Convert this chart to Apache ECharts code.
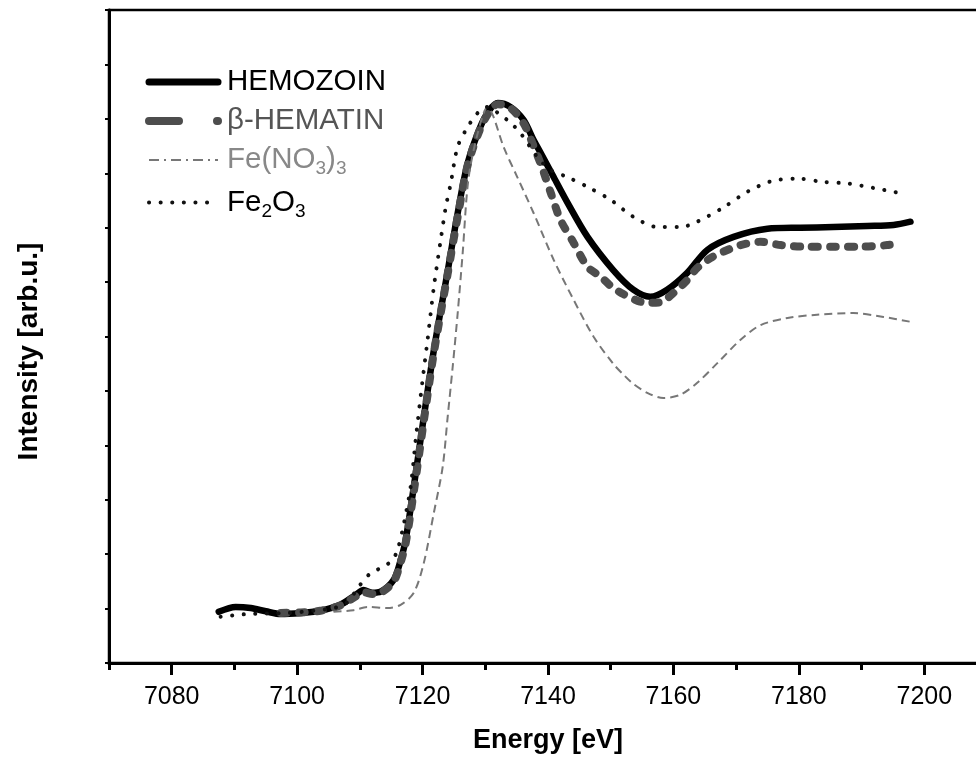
<!DOCTYPE html>
<html>
<head>
<meta charset="utf-8">
<script src="https://cdn.jsdelivr.net/npm/echarts@6/dist/echarts.min.js"></script>
<style>
html,body{margin:0;padding:0;background:#fff;}
#chart{width:976px;height:760px;}
</style>
</head>
<body>
<div id="chart"></div>
<script>
// ---- data (energy in eV, intensity in arbitrary units) ----
const hemozoinE = [7087.5, 7090.2, 7092.6, 7095.0, 7097.4, 7100.6, 7103.7, 7106.9, 7109.3, 7110.6, 7112.0, 7113.3, 7115.4, 7116.5, 7117.3, 7118.6, 7120.2, 7121.8, 7124.0, 7125.6, 7127.2, 7129.2, 7130.6, 7132.0, 7134.0, 7136.1, 7137.7, 7138.8, 7140.9, 7143.1, 7146.3, 7150.4, 7153.6, 7156.3, 7159.0, 7162.2, 7165.4, 7169.6, 7175.0, 7180.2, 7185.5, 7190.9, 7195.1, 7197.8];
const hemozoinI = [0.94, 1.03, 1.01, 0.95, 0.90, 0.92, 0.96, 1.07, 1.25, 1.34, 1.29, 1.31, 1.53, 1.89, 2.26, 3.24, 4.52, 5.75, 7.20, 8.27, 9.19, 9.85, 10.15, 10.29, 10.22, 9.98, 9.61, 9.38, 8.93, 8.46, 7.83, 7.22, 6.86, 6.73, 6.86, 7.17, 7.59, 7.83, 7.98, 8.00, 8.01, 8.03, 8.05, 8.11];

const hematinE = [7097.4, 7100.6, 7103.7, 7106.9, 7109.3, 7110.6, 7112.0, 7113.3, 7115.4, 7116.5, 7117.3, 7118.6, 7120.2, 7121.8, 7124.0, 7125.6, 7127.2, 7129.2, 7130.6, 7132.0, 7134.0, 7136.1, 7137.7, 7139.0, 7140.5, 7142.0, 7144.1, 7146.3, 7148.4, 7150.0, 7152.0, 7154.7, 7156.3, 7158.2, 7160.0, 7161.9, 7163.8, 7165.9, 7168.0, 7170.7, 7173.9, 7177.1, 7181.4, 7185.5, 7189.8, 7194.1, 7196.2];
const hematinI = [0.92, 0.93, 0.96, 1.06, 1.22, 1.30, 1.27, 1.29, 1.50, 1.85, 2.20, 3.15, 4.45, 5.70, 7.15, 8.20, 9.15, 9.82, 10.12, 10.27, 10.20, 9.92, 9.50, 9.12, 8.62, 8.14, 7.72, 7.28, 7.10, 6.93, 6.78, 6.64, 6.62, 6.64, 6.80, 7.00, 7.26, 7.44, 7.56, 7.68, 7.74, 7.68, 7.65, 7.65, 7.65, 7.68, 7.72];

const nitrateE = [7105.8, 7109.0, 7111.2, 7114.4, 7116.5, 7118.6, 7120.2, 7121.8, 7123.2, 7124.0, 7124.8, 7125.6, 7126.4, 7127.3, 7128.8, 7130.4, 7131.3, 7132.9, 7135.1, 7137.7, 7140.9, 7144.1, 7147.3, 7150.4, 7152.2, 7153.6, 7155.9, 7158.4, 7161.1, 7163.8, 7167.0, 7170.7, 7173.9, 7178.2, 7182.9, 7188.7, 7193.5, 7197.8];
const nitrateI = [0.94, 0.97, 1.03, 1.01, 1.07, 1.29, 1.84, 2.76, 3.60, 4.52, 5.44, 6.43, 7.54, 8.88, 9.74, 10.22, 10.04, 9.49, 8.93, 8.27, 7.41, 6.67, 5.99, 5.50, 5.28, 5.13, 4.96, 4.87, 4.93, 5.15, 5.51, 5.94, 6.21, 6.34, 6.40, 6.43, 6.36, 6.27];

const oxideE = [7087.8, 7092.1, 7098.5, 7105.8, 7108.0, 7109.8, 7111.7, 7113.6, 7115.2, 7116.0, 7116.8, 7118.1, 7118.9, 7120.0, 7120.8, 7121.8, 7122.9, 7123.7, 7124.5, 7125.6, 7127.2, 7128.8, 7130.4, 7132.0, 7134.0, 7135.6, 7138.3, 7140.4, 7143.1, 7146.3, 7150.0, 7153.6, 7157.5, 7161.1, 7163.8, 7167.8, 7171.8, 7175.8, 7179.9, 7183.9, 7187.9, 7191.9, 7195.9];
const oxideI = [0.85, 0.90, 0.92, 1.01, 1.12, 1.40, 1.65, 1.76, 1.89, 2.08, 2.44, 3.24, 4.10, 5.20, 5.94, 6.91, 7.78, 8.38, 8.82, 9.49, 9.85, 10.11, 10.22, 10.11, 9.93, 9.74, 9.30, 9.06, 8.93, 8.75, 8.51, 8.20, 8.01, 8.01, 8.11, 8.36, 8.66, 8.86, 8.90, 8.84, 8.81, 8.73, 8.64];

const seriesNames = ['HEMOZOIN', 'β-HEMATIN', 'Fe(NO3)3', 'Fe2O3'];
const xMajorTicks = [7080, 7100, 7120, 7140, 7160, 7180, 7200];
const xMinorTicks = [7070, 7090, 7110, 7130, 7150, 7170, 7190, 7210];
const xTitle = 'Energy [eV]';
const yTitle = 'Intensity [arb.u.]';

const pairs = (xs, ys) => xs.map((x, i) => [x, ys[i]]);
const FONT = '"Liberation Sans", Arial, sans-serif';

const chart = echarts.init(document.getElementById('chart'), null, {renderer: 'canvas'});
const legendRich = {
  n: {fontSize: 29.5, fontFamily: FONT},
  p: {fontSize: 29.5, fontFamily: FONT, padding: [0, 0, 0, 4]},
  s: {fontSize: 19, fontFamily: FONT, padding: [18, 0, 0, 0]}
};
chart.setOption({
  animation: false,
  backgroundColor: '#ffffff',
  grid: {left: 109, top: 10, right: -11, bottom: 97, show: true, borderColor: '#000', borderWidth: 2.5,
    backgroundColor: 'transparent', outerBoundsMode: 'none', containLabel: false},
  legend: {
    orient: 'vertical', left: 140, top: 62, itemWidth: 69, itemHeight: 30, itemGap: 9,
    textStyle: {fontFamily: FONT, fontSize: 29.5, rich: legendRich},
    itemStyle: {opacity: 0, borderWidth: 0},
    formatter: function (name) {
      if (name === 'Fe(NO3)3') return '{p|Fe(NO}{s|3}{n|)}{s|3}';
      if (name === 'Fe2O3') return '{p|Fe}{s|2}{n|O}{s|3}';
      return '{p|' + name + '}';
    },
    data: [
      {name: seriesNames[0], textStyle: {color: '#000'}, lineStyle: {width: 7, cap: 'round', color: '#000'}},
      {name: seriesNames[1], textStyle: {color: '#555'}, lineStyle: {type: [30, 38], width: 8, cap: 'round', color: '#4d4d4d'}},
      {name: seriesNames[2], textStyle: {color: '#888'}, lineStyle: {type: [10, 5, 2, 5], width: 2, color: '#777'}},
      {name: seriesNames[3], textStyle: {color: '#000'}, lineStyle: {type: [0.1, 11.5], width: 4, cap: 'round', color: '#111'}}
    ]
  },
  xAxis: [{
    type: 'value', min: 7070, max: 7210, interval: 10,
    name: xTitle, nameLocation: 'middle', nameGap: 64,
    nameTextStyle: {fontFamily: FONT, fontSize: 27, fontWeight: 'bold', color: '#000'},
    axisLine: {lineStyle: {color: '#000', width: 3}},
    axisTick: {show: true, length: 12, lineStyle: {color: '#000', width: 3}, customValues: xMajorTicks},
    axisLabel: {fontFamily: FONT, fontSize: 25, color: '#000', margin: 22, customValues: xMajorTicks,
      formatter: function (v) { return String(v); }},
    splitLine: {show: false}
  }, {
    type: 'value', min: 7070, max: 7210, interval: 10, position: 'bottom',
    axisLine: {show: false},
    axisTick: {show: true, length: 7, lineStyle: {color: '#000', width: 3}, customValues: xMinorTicks},
    axisLabel: {show: false},
    splitLine: {show: false}
  }],
  yAxis: {
    type: 'value', min: 0, max: 12, interval: 1,
    name: yTitle, nameLocation: 'middle', nameGap: 66,
    nameTextStyle: {fontFamily: FONT, fontSize: 28, fontWeight: 'bold', color: '#000', padding: [0, 30, 0, 0]},
    axisLine: {show: true, lineStyle: {color: '#000', width: 3}},
    axisTick: {show: true, length: 4, lineStyle: {color: '#000', width: 2}},
    axisLabel: {show: false},
    splitLine: {show: false}
  },
  series: [
    {name: seriesNames[0], type: 'line', data: pairs(hemozoinE, hemozoinI), showSymbol: false, symbol: 'none', smooth: 0.3,
      lineStyle: {color: '#000', width: 6.5, cap: 'round', join: 'round'}, itemStyle: {color: '#000'}},
    {name: seriesNames[1], type: 'line', data: pairs(hematinE, hematinI), showSymbol: false, symbol: 'none', smooth: 0.3,
      lineStyle: {color: '#4d4d4d', width: 8, type: [6, 12], cap: 'round', join: 'round'}, itemStyle: {color: '#4d4d4d'}},
    {name: seriesNames[2], type: 'line', data: pairs(nitrateE, nitrateI), showSymbol: false, symbol: 'none', smooth: 0.3,
      lineStyle: {color: '#777', width: 2, type: [8, 5]}, itemStyle: {color: '#777'}},
    {name: seriesNames[3], type: 'line', data: pairs(oxideE, oxideI), showSymbol: false, symbol: 'none', smooth: 0.3,
      lineStyle: {color: '#111', width: 4, type: [0.1, 11.5], cap: 'round'}, itemStyle: {color: '#111'}}
  ]
});
</script>
</body>
</html>
